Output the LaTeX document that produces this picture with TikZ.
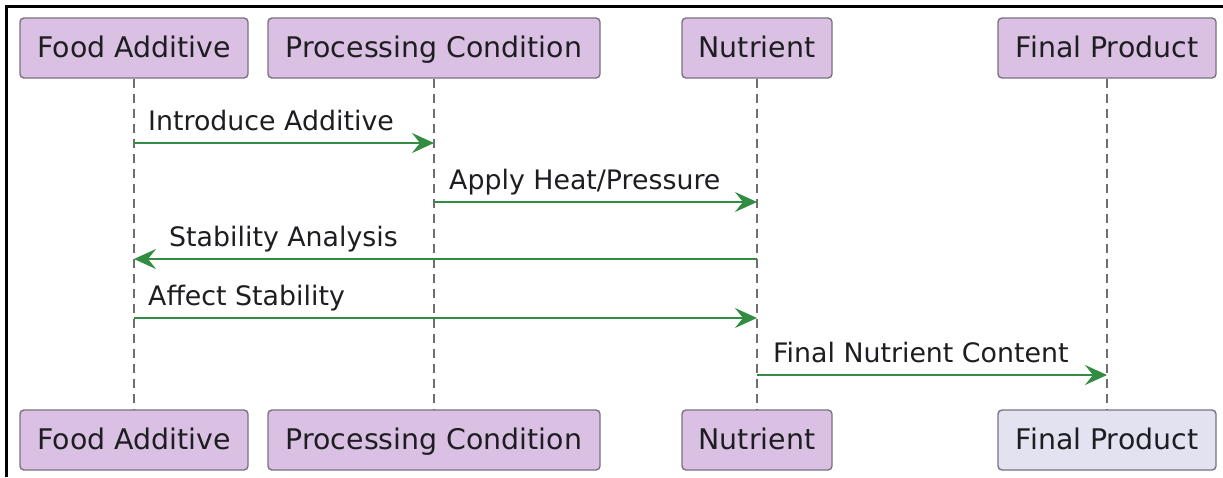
\documentclass[tikz,border=0pt]{standalone}
\usepackage{fontspec}
\setmainfont{DejaVu Sans}
\usetikzlibrary{arrows.meta}
\definecolor{boxfill}{RGB}{218,193,227}
\definecolor{boxfilltwo}{RGB}{226,226,240}
\definecolor{boxline}{RGB}{125,112,130}
\definecolor{msggreen}{RGB}{50,140,66}
\definecolor{txt}{RGB}{30,30,34}
\definecolor{lifegray}{RGB}{110,110,110}
\begin{document}
\begin{tikzpicture}[x=1pt,y=-1pt,
  part/.style={draw=boxline, fill=boxfill, line width=1.4pt, rounded corners=4pt,
    minimum height=60pt, inner sep=0pt, text=txt, text height=21pt, text depth=3pt,
    font=\fontsize{28.4pt}{34pt}\selectfont},
  lifeline/.style={draw=lifegray, line width=1.2pt, dash pattern=on 9pt off 6pt},
  msg/.style={draw=msggreen, line width=2pt,
    -{Stealth[length=22pt, width=20pt, inset=8pt]}},
  lbl/.style={inner sep=0pt, text=txt, font=\fontsize{26.8pt}{32pt}\selectfont},
  frame/.style={draw=black, line width=3pt}
]
\useasboundingbox (0,0) rectangle (1223,477);
\fill[white] (0,0) rectangle (1223,477);
\draw[frame] (6,477) -- (6,6) -- (1223,6);

% top participants
\node[part, minimum width=228pt] (faT) at (134,48) {Food Additive};
\node[part, minimum width=332pt] (pcT) at (434,48) {Processing Condition};
\node[part, minimum width=150pt] (nuT) at (757,48) {Nutrient};
\node[part, minimum width=218pt] (fpT) at (1107,48) {Final Product};

% bottom participants
\node[part, minimum width=228pt] (faB) at (134,440) {Food Additive};
\node[part, minimum width=332pt] (pcB) at (434,440) {Processing Condition};
\node[part, minimum width=150pt] (nuB) at (757,440) {Nutrient};
\node[part, minimum width=218pt, fill=boxfilltwo] (fpB) at (1107,440) {Final Product};

% lifelines
\draw[lifeline] (faT.south) -- (faB.north);
\draw[lifeline] (pcT.south) -- (pcB.north);
\draw[lifeline] (nuT.south) -- (nuB.north);
\draw[lifeline] (fpT.south) -- (fpB.north);

% messages
\draw[msg] (faT |- 0,143) -- (pcT |- 0,143);
\node[lbl, anchor=base west] (l1) at (148,130) {Introduce Additive};

\draw[msg] (pcT |- 0,202) -- (nuT |- 0,202);
\node[lbl, anchor=base west] (l2) at (449,189) {Apply Heat/Pressure};

\draw[msg] (nuT |- 0,259) -- (faT |- 0,259);
\node[lbl, anchor=base west] (l3) at (169,246) {Stability Analysis};

\draw[msg] (faT |- 0,318) -- (nuT |- 0,318);
\node[lbl, anchor=base west] (l4) at (148,305) {Affect Stability};

\draw[msg] (nuT |- 0,375) -- (fpT |- 0,375);
\node[lbl, anchor=base west] (l5) at (773,362) {Final Nutrient Content};
\end{tikzpicture}
\end{document}
